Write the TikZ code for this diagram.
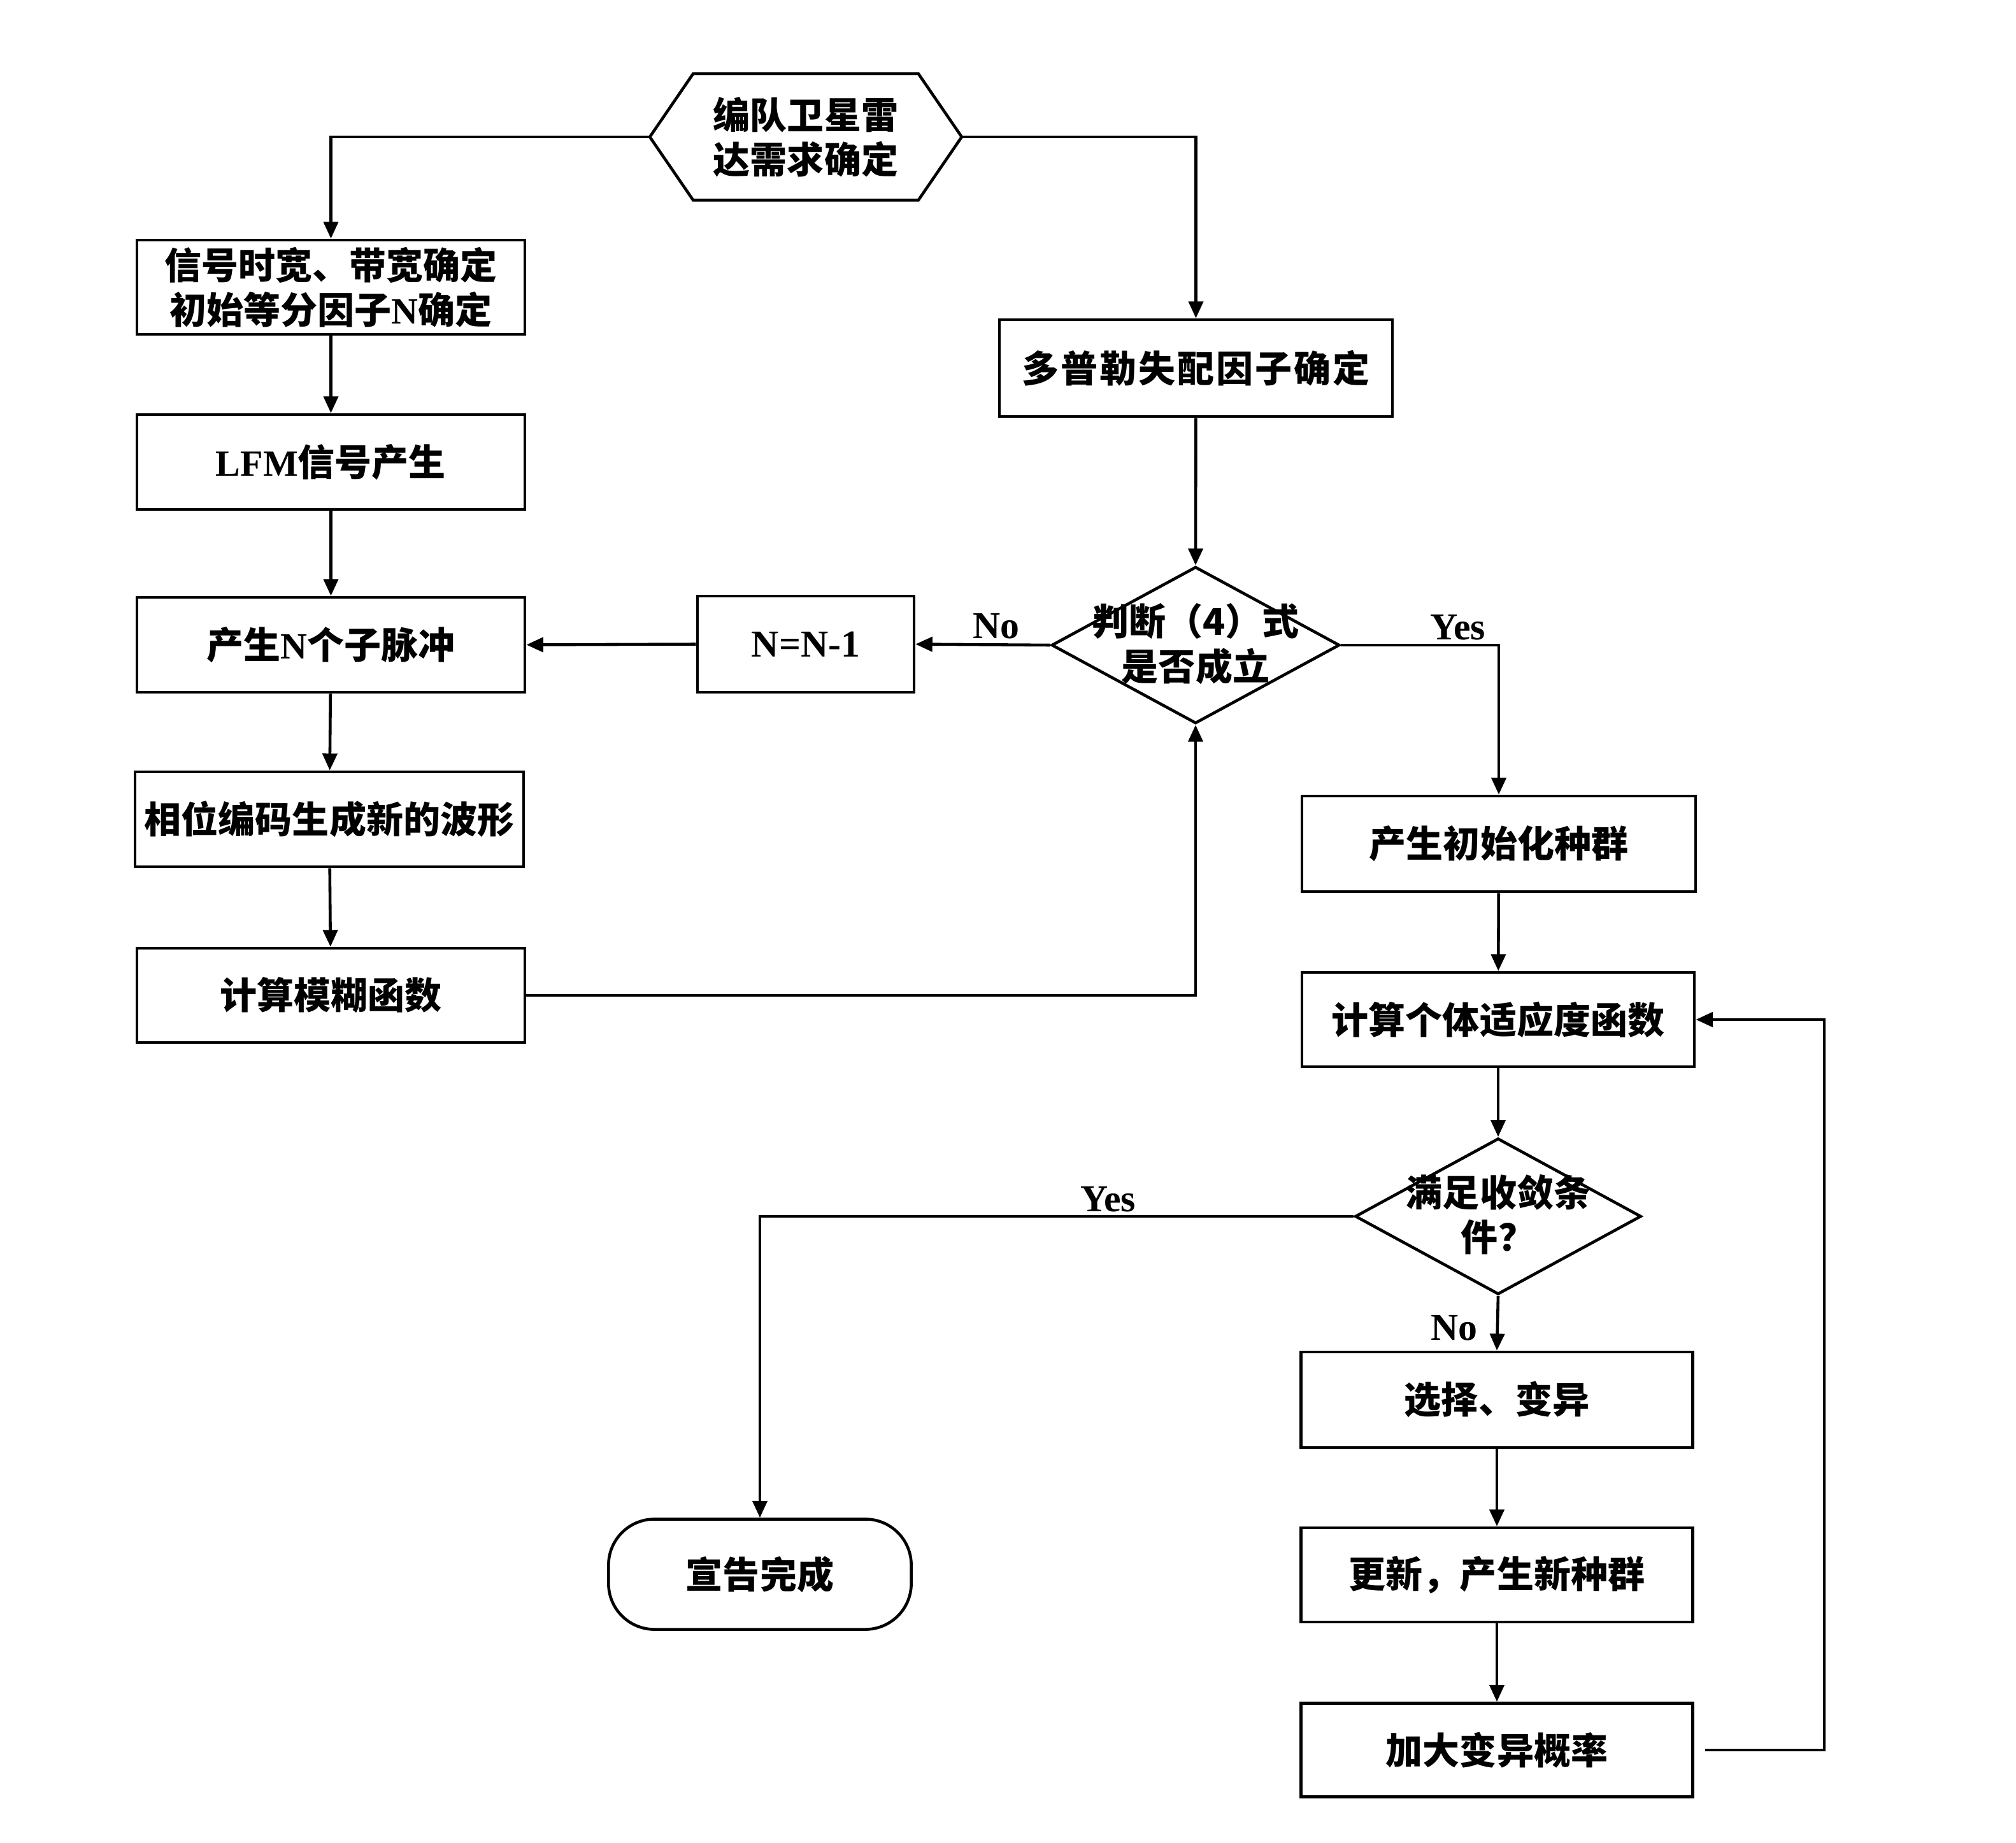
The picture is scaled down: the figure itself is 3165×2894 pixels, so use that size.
\documentclass[tikz,border=0pt]{standalone}
\usepackage{fontspec}
\setmainfont{Liberation Serif}
\newfontfamily\cjk{Noto Sans CJK SC}
\usetikzlibrary{arrows.meta,shapes.geometric}
\newcommand\cjkf{\cjk\bfseries\fontsize{16.5}{20}\selectfont}
\newcommand\latn[1]{{\rmfamily\bfseries #1}}
\begin{document}
\begin{tikzpicture}[x=0.01cm,y=-0.01cm,
  lw/.style={line width=1.3pt},
  arr/.style={lw,-{Triangle[length=7.5pt,width=6.5pt]}},
  box/.style={draw,lw,rectangle,inner sep=0pt,align=center,font=\cjkf},
  dia/.style={draw,lw,diamond,inner sep=0pt},
  txt/.style={inner sep=0pt,align=center,font=\cjkf},
  lab/.style={inner sep=0pt,font=\rmfamily\bfseries\fontsize{17}{20}\selectfont}]
\fill[white] (0,0) rectangle (3165,2894);
\useasboundingbox (0,0) rectangle (3165,2894);

% top hexagon
\node[txt,minimum width=4.88cm,minimum height=1.97cm] (hex) at (1265,215) {编队卫星雷\\达需求确定};
\draw[lw] (hex.west) -- ([xshift=0.68cm]hex.north west) -- ([xshift=-0.68cm]hex.north east)
  -- (hex.east) -- ([xshift=-0.68cm]hex.south east) -- ([xshift=0.68cm]hex.south west) -- cycle;

% left column
\node[box,minimum width=6.09cm,minimum height=1.48cm] (b1) at (519.5,451) {信号时宽、带宽确定\\初始等分因子\latn{N}确定};
\node[box,minimum width=6.09cm,minimum height=1.49cm] (b2) at (519.5,725.5) {\latn{LFM}信号产生};
\node[box,minimum width=6.09cm,minimum height=1.49cm] (b3) at (519.5,1012.5) {产生\latn{N}个子脉冲};
\node[box,minimum width=6.10cm,minimum height=1.49cm] (b4) at (517,1286.5) {相位编码生成新的波形};
\node[box,minimum width=6.09cm,minimum height=1.48cm] (b5) at (519.5,1563) {计算模糊函数};

\node[box,minimum width=3.40cm,minimum height=1.51cm,font=\rmfamily\bfseries\fontsize{17}{20}\selectfont] (nn) at (1265,1011.5) {N=N-1};

% middle column
\node[box,minimum width=6.17cm,minimum height=1.52cm] (dop) at (1877.5,578) {\addfontfeature{LetterSpace=5}多普勒失配因子确定};
\node[dia,minimum width=4.52cm,minimum height=2.46cm] (d1) at (1877,1013) {};
\node[txt] (d1t) at (1877,1011) {判断（4）式\\是否成立};

% right column
\node[box,minimum width=6.18cm,minimum height=1.50cm] (init) at (2353,1325) {产生初始化种群};
\node[box,minimum width=6.16cm,minimum height=1.48cm] (fit) at (2352,1601) {计算个体适应度函数};
\node[dia,minimum width=4.49cm,minimum height=2.45cm] (d2) at (2352,1910) {};
\node[txt] (d2t) at (2352,1907) {满足收敛条\\件？};
\node[box,minimum width=6.15cm,minimum height=1.50cm] (sel) at (2350,2198) {选择、变异};
\node[box,minimum width=6.15cm,minimum height=1.48cm] (upd) at (2350,2473) {更新，产生新种群};
\node[box,minimum width=6.15cm,minimum height=1.47cm] (add) at (2350,2748) {加大变异概率};

\node[box,rounded corners=0.72cm,minimum width=4.75cm,minimum height=1.73cm] (done) at (1193,2472) {宣告完成};

% connectors
\draw[arr] (hex.west) -| (b1.north);
\draw[arr] (hex.east) -| (dop.north);
\draw[arr] (b1) -- (b2);
\draw[arr] (b2) -- (b3);
\draw[arr] (b3) -- (b4);
\draw[arr] (b4) -- (b5);
\draw[arr] (b5.east) -| (d1.south);
\draw[arr] (dop) -- (d1.north);
\draw[arr] (d1.west) -- (nn.east);
\draw[arr] (nn.west) -- (b3.east);
\draw[arr] (d1.east) -| (init.north);
\draw[arr] (init) -- (fit);
\draw[arr] (fit) -- (d2.north);
\draw[arr] (d2.west) -| (done.north);
\draw[arr] (d2.south) -- (sel.north);
\draw[arr] (sel) -- (upd);
\draw[arr] (upd) -- (add);
\draw[arr] ([xshift=0.17cm]add.east) -- ++(187,0) |- (fit.east);

% labels
\node[lab] (lno1) at (1564,983) {No};
\node[lab] (lyes1) at (2289,985) {Yes};
\node[lab] (lyes2) at (1740,1883) {Yes};
\node[lab] (lno2) at (2283,2085) {No};
\end{tikzpicture}
\end{document}
